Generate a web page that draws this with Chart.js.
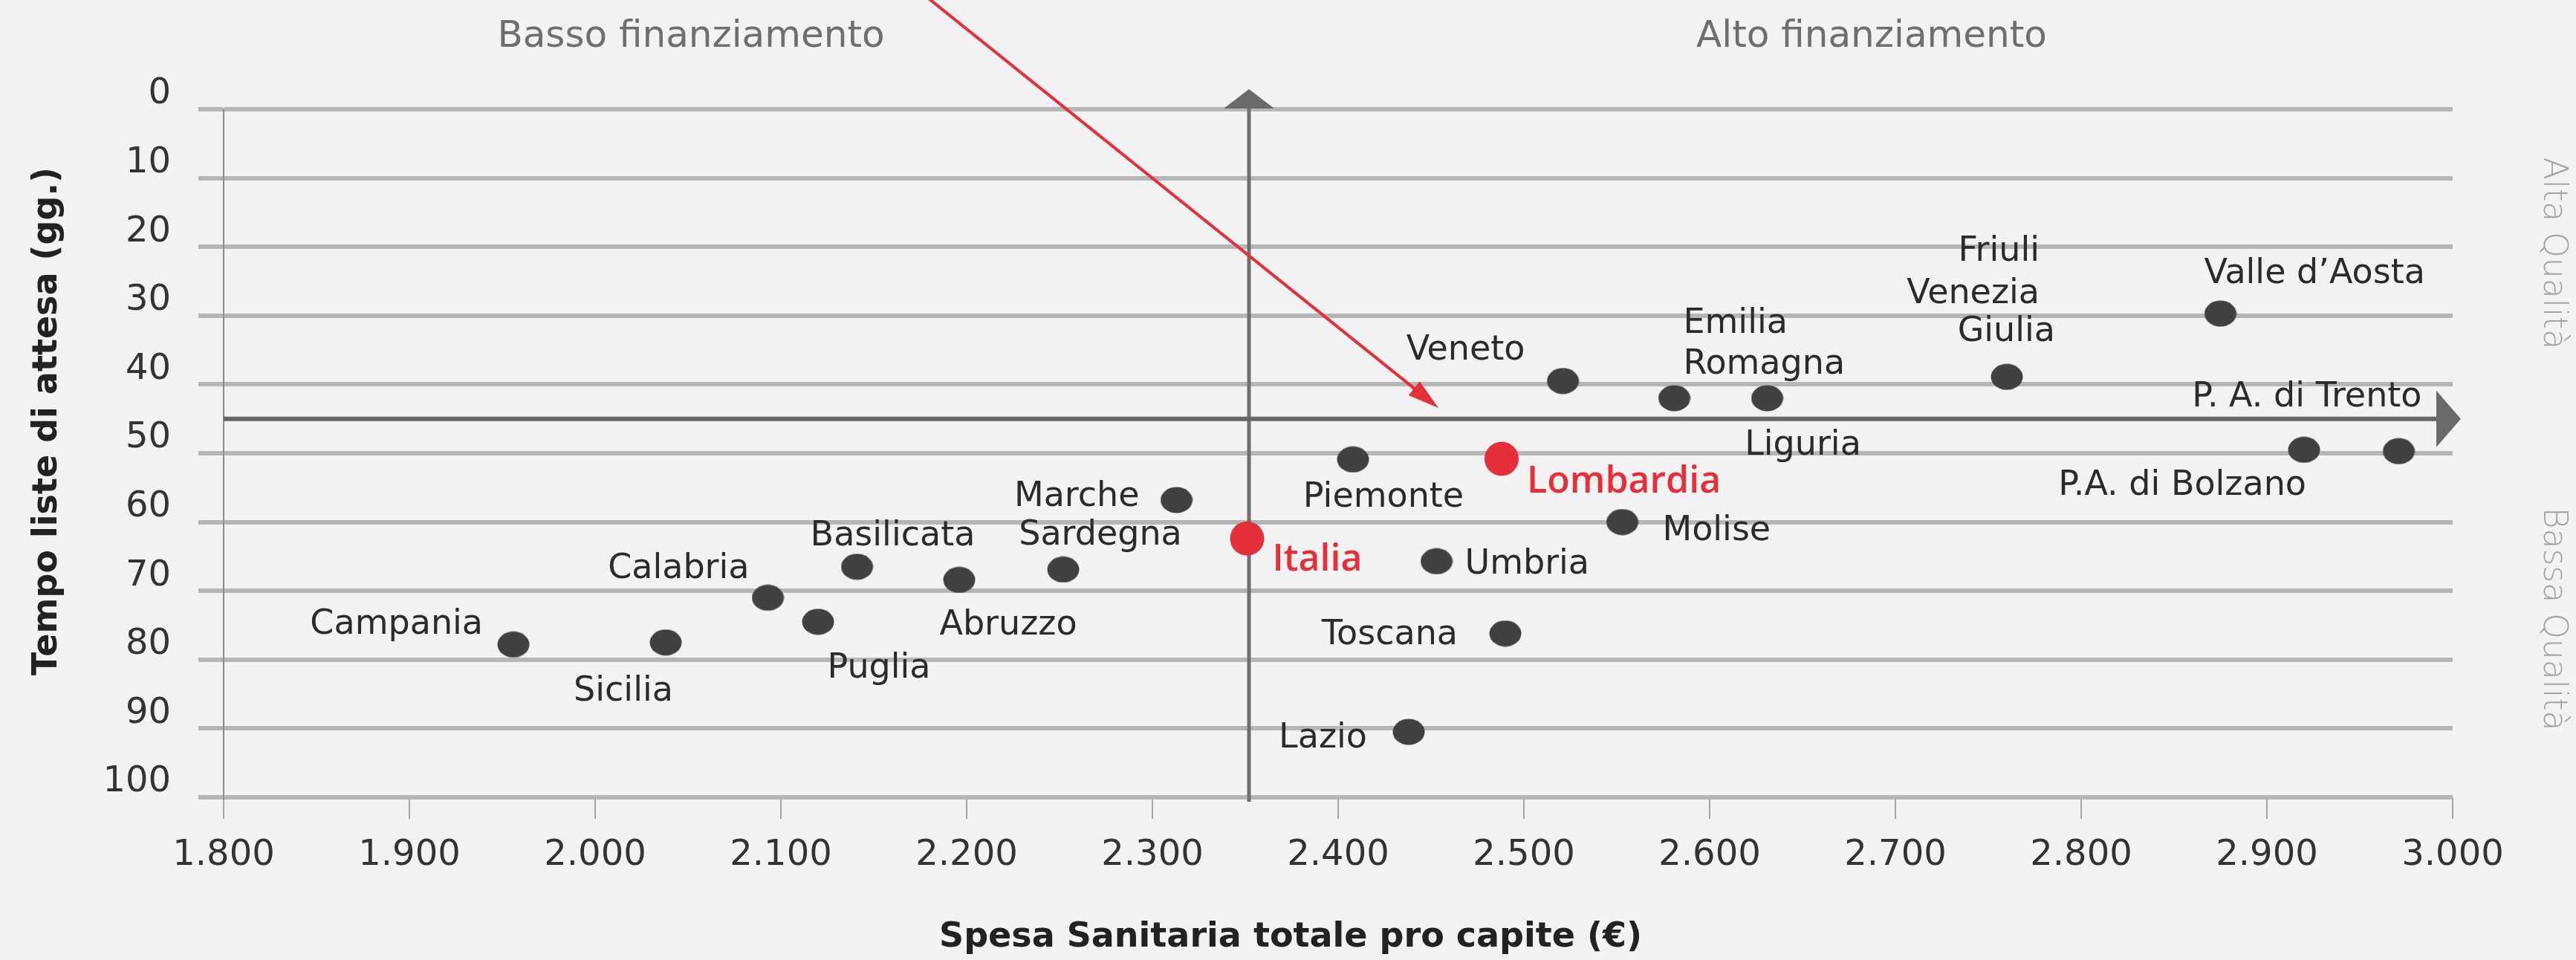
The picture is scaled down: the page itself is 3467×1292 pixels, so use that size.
<!DOCTYPE html>
<html lang="it">
<head>
<meta charset="utf-8">
<title>Spesa sanitaria e tempi di attesa</title>
<script src="https://cdn.jsdelivr.net/npm/chart.js@4.4.1/dist/chart.umd.min.js"></script>
<style>
  html, body { margin: 0; padding: 0; background: #f2f2f2; }
  #wrap { width: 3467px; height: 1292px; }
</style>
</head>
<body>
<div id="wrap"><canvas id="grafico" width="3467" height="1292"></canvas></div>
<script>
// Dati
const regioni = ['Campania', 'Sicilia', 'Calabria', 'Puglia', 'Basilicata', 'Abruzzo', 'Sardegna', 'Marche',
  'Piemonte', 'Umbria', 'Toscana', 'Lazio', 'Veneto', 'Emilia Romagna', 'Liguria', 'Molise',
  'Friuli Venezia Giulia', 'Valle d’Aosta', 'P.A. di Bolzano', 'P. A. di Trento'];
const spesa = [1956, 2038, 2093, 2120, 2141, 2196, 2252, 2313,
  2408, 2453, 2490, 2438, 2521, 2581, 2631, 2553,
  2760, 2875, 2920, 2971];
const attesa = [77.8, 77.5, 71.0, 74.5, 66.5, 68.4, 66.9, 56.8,
  50.9, 65.7, 76.2, 90.5, 39.5, 42.0, 42.0, 60.0,
  38.9, 29.7, 49.5, 49.7];

// Punti evidenziati in rosso
const evidenziate = ['Lombardia', 'Italia'];
const spesaEvid = [2488, 2351];
const attesaEvid = [50.8, 62.4];

// Assi
const xTicks = [1800, 1900, 2000, 2100, 2200, 2300, 2400, 2500, 2600, 2700, 2800, 2900, 3000];
const yTicks = [0, 10, 20, 30, 40, 50, 60, 70, 80, 90, 100];
const mediaSpesa = 2352;   // linea verticale (media Italia)
const sogliaAttesa = 45;   // linea orizzontale
const frecciaDa = [2180, -16];
const frecciaA = [2454, 43.4];

// Posizione delle etichette rispetto al punto: [allineamento, dx, dy(baseline)]
const layoutEtichette = {
  'Campania': [['right', -41, -14]],
  'Sicilia': [['center', -57, 78]],
  'Calabria': [['right', -25, -26]],
  'Puglia': [['center', 82, 75]],
  'Basilicata': [['center', 48, -29]],
  'Abruzzo': [['center', 66, 74]],
  'Sardegna': [['center', 50, -33]],
  'Marche': [['right', -50, 8]],
  'Piemonte': [['center', 41, 64]],
  'Umbria': [['left', 38, 17]],
  'Toscana': [['right', -64, 14]],
  'Lazio': [['right', -56, 21]],
  'Veneto': [['right', -51, -29]],
  'Emilia Romagna': [['left', 12, -88], ['left', 12, -33]],
  'Liguria': [['center', 48, 76]],
  'Molise': [['left', 54, 24]],
  'Friuli Venezia Giulia': [['right', 44, -156], ['right', 44, -99], ['right', 65, -48]],
  'Valle d’Aosta': [['left', -22, -41]],
  'P.A. di Bolzano': [['right', 3, 61]],
  'P. A. di Trento': [['right', 31, -60]],
  'Lombardia': [['left', 34, 46]],
  'Italia': [['left', 34, 43]]
};

const ROSSO = '#e5303c';
const GRIGIO_PUNTO = '#414141';
const FONT = '"DejaVu Sans", sans-serif';

Chart.defaults.font.family = FONT;

// Punto ellittico (i pallini grigi sono leggermente schiacciati)
function puntoEllisse(w, h, colore) {
  const c = document.createElement('canvas');
  c.width = w; c.height = h;
  const g = c.getContext('2d');
  g.fillStyle = colore;
  g.beginPath();
  g.ellipse(w / 2, h / 2, w / 2 - 0.5, h / 2 - 0.5, 0, 0, Math.PI * 2);
  g.fill();
  return c;
}

function formatoMigliaia(v) {
  const s = String(v % 1000).padStart(3, '0');
  return Math.floor(v / 1000) + '.' + s;
}

function disegnaEtichetta(ctx, nome, px, py) {
  const pos = layoutEtichette[nome];
  if (!pos) return;
  const righe = pos.length > 1 ? nome.split(' ') : [nome];
  righe.forEach((testo, i) => {
    const [al, dx, dy] = pos[i];
    ctx.textAlign = al;
    ctx.fillText(testo, px + dx, py + dy);
  });
}

const decorazioni = {
  id: 'decorazioni',
  beforeDatasetsDraw(chart) {
    const { ctx, chartArea, scales: { x, y } } = chart;
    ctx.save();
    // linea verticale con freccia verso l'alto
    const xm = x.getPixelForValue(mediaSpesa);
    ctx.strokeStyle = '#707070';
    ctx.fillStyle = '#6a6a6a';
    ctx.lineWidth = 5;
    ctx.beginPath();
    ctx.moveTo(xm, chartArea.bottom + 6);
    ctx.lineTo(xm, chartArea.top - 4);
    ctx.stroke();
    ctx.beginPath();
    ctx.moveTo(xm - 34, chartArea.top - 1);
    ctx.lineTo(xm, chartArea.top - 27);
    ctx.lineTo(xm + 34, chartArea.top - 1);
    ctx.closePath();
    ctx.fill();
    // linea orizzontale con freccia verso destra
    const ys = y.getPixelForValue(sogliaAttesa);
    ctx.strokeStyle = '#666666';
    ctx.lineWidth = 6;
    ctx.beginPath();
    ctx.moveTo(chartArea.left, ys);
    ctx.lineTo(chartArea.right - 16, ys);
    ctx.stroke();
    ctx.beginPath();
    ctx.moveTo(chartArea.right - 22, ys - 38);
    ctx.lineTo(chartArea.right + 11, ys);
    ctx.lineTo(chartArea.right - 22, ys + 38);
    ctx.closePath();
    ctx.fill();
    ctx.restore();
  },
  afterDatasetsDraw(chart) {
    const { ctx, chartArea, scales: { x, y } } = chart;
    ctx.save();
    // etichette regioni
    ctx.font = '46px ' + FONT;
    ctx.fillStyle = '#2b2b2b';
    ctx.textBaseline = 'alphabetic';
    regioni.forEach((r, i) => {
      disegnaEtichetta(ctx, r, x.getPixelForValue(spesa[i]), y.getPixelForValue(attesa[i]));
    });
    ctx.font = '600 50px "Open Sans", sans-serif';
    ctx.fillStyle = ROSSO;
    evidenziate.forEach((r, i) => {
      disegnaEtichetta(ctx, r, x.getPixelForValue(spesaEvid[i]), y.getPixelForValue(attesaEvid[i]));
    });

    // freccia rossa
    const x0 = x.getPixelForValue(frecciaDa[0]), y0 = y.getPixelForValue(frecciaDa[1]);
    const x1 = x.getPixelForValue(frecciaA[0]), y1 = y.getPixelForValue(frecciaA[1]);
    const ang = Math.atan2(y1 - y0, x1 - x0);
    ctx.strokeStyle = ROSSO;
    ctx.lineWidth = 4;
    ctx.beginPath();
    ctx.moveTo(x0, y0);
    ctx.lineTo(x1 - Math.cos(ang) * 30, y1 - Math.sin(ang) * 30);
    ctx.stroke();
    ctx.beginPath();
    ctx.moveTo(x1, y1);
    ctx.lineTo(x1 - Math.cos(ang) * 42 + Math.sin(ang) * 12, y1 - Math.sin(ang) * 42 - Math.cos(ang) * 12);
    ctx.lineTo(x1 - Math.cos(ang) * 42 - Math.sin(ang) * 12, y1 - Math.sin(ang) * 42 + Math.cos(ang) * 12);
    ctx.closePath();
    ctx.fill();

    // intestazioni in alto
    ctx.font = '50px ' + FONT;
    ctx.fillStyle = '#6e6e6e';
    ctx.textAlign = 'center';
    ctx.fillText('Basso finanziamento', 930, 63);
    ctx.fillText('Alto finanziamento', 2519, 63);

    // scritte verticali a destra
    ctx.font = '200 44px ' + FONT;
    ctx.fillStyle = '#a3a3a3';
    ctx.textBaseline = 'middle';
    [['Alta Qualità', 341], ['Bassa Qualità', 833]].forEach(([t, cy]) => {
      ctx.save();
      ctx.translate(chartArea.right + 134, cy);
      ctx.rotate(Math.PI / 2);
      ctx.fillText(t, 0, 0);
      ctx.restore();
    });

    // titoli degli assi
    ctx.font = 'bold 46px ' + FONT;
    ctx.fillStyle = '#222222';
    ctx.save();
    ctx.translate(64, 567);
    ctx.rotate(-Math.PI / 2);
    ctx.fillText('Tempo liste di attesa (gg.)', 0, 0);
    ctx.restore();
    ctx.textBaseline = 'alphabetic';
    ctx.fillText('Spesa Sanitaria totale pro capite (€)', 1737, 1274);
    ctx.restore();
  }
};

const ctx = document.getElementById('grafico').getContext('2d');
new Chart(ctx, {
  type: 'scatter',
  data: {
    datasets: [
      {
        label: 'Regioni',
        data: regioni.map((r, i) => ({ x: spesa[i], y: attesa[i] })),
        pointStyle: puntoEllisse(44, 36, GRIGIO_PUNTO),
        pointRadius: 20,
        pointHoverRadius: 20
      },
      {
        label: 'Evidenziate',
        data: evidenziate.map((r, i) => ({ x: spesaEvid[i], y: attesaEvid[i] })),
        pointStyle: 'circle',
        pointRadius: 23,
        pointHoverRadius: 23,
        backgroundColor: ROSSO,
        borderWidth: 0
      }
    ]
  },
  options: {
    responsive: false,
    animation: false,
    devicePixelRatio: 1,
    layout: { padding: { left: 0, right: 166, top: 147, bottom: 0 } },
    plugins: { legend: { display: false }, tooltip: { enabled: false } },
    scales: {
      x: {
        type: 'linear',
        min: 1800,
        max: 3000,
        afterBuildTicks: s => { s.ticks = xTicks.map(v => ({ value: v })); },
        afterFit: s => { s.height = 219; },
        grid: { drawOnChartArea: false, drawTicks: true, tickLength: 29, color: '#a6a6a6', lineWidth: 2 },
        border: { display: false },
        ticks: {
          padding: 21,
          color: '#333333',
          font: { size: 48 },
          maxRotation: 0,
          callback: v => formatoMigliaia(v)
        }
      },
      y: {
        type: 'linear',
        reverse: true,
        min: 0,
        max: 100,
        afterBuildTicks: s => { s.ticks = yTicks.map(v => ({ value: v })); },
        afterFit: s => { s.width = 301; },
        grid: { color: '#b6b6b6', lineWidth: 6, tickLength: 34, drawTicks: true },
        border: { display: true, color: '#8c8c8c', width: 2 },
        ticks: {
          padding: 37,
          labelOffset: -20,
          color: '#333333',
          font: { size: 48 }
        }
      }
    }
  },
  plugins: [decorazioni]
});
</script>
</body>
</html>
